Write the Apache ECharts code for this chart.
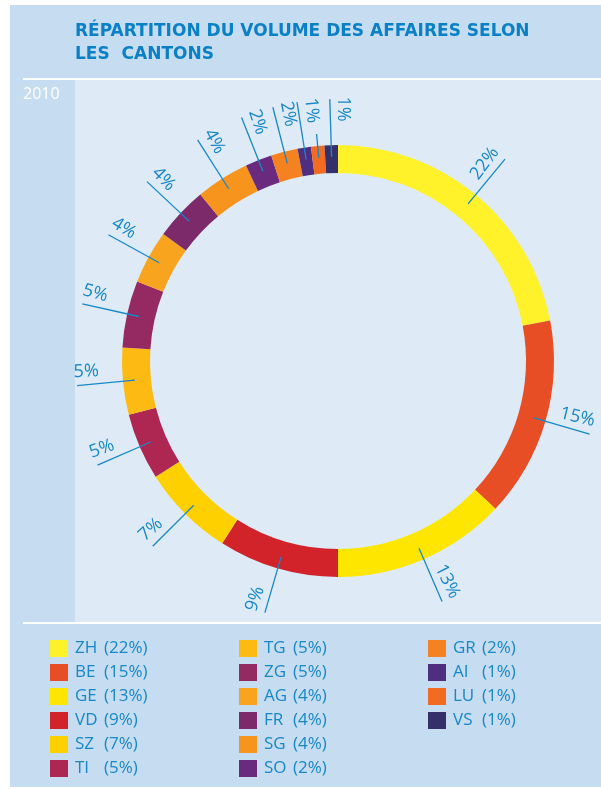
<!DOCTYPE html>
<html lang="fr">
<head>
<meta charset="UTF-8">
<title>Répartition du volume des affaires selon les cantons</title>
<script src="https://cdn.jsdelivr.net/npm/echarts@6/dist/echarts.min.js"></script>
<style>
  html, body { margin: 0; padding: 0; background: #ffffff; }
  #main { width: 601px; height: 789px; }
</style>
</head>
<body>
<div id="main"></div>
<script>
// données (en %)
var cantons = ['ZH', 'BE', 'GE', 'VD', 'SZ', 'TI', 'TG', 'ZG', 'AG', 'FR', 'SG', 'SO', 'GR', 'AI', 'LU', 'VS'];
var parts = [22, 15, 13, 9, 7, 5, 5, 5, 4, 4, 4, 2, 2, 1, 1, 1];
var couleurs = ['#fff22a', '#e84e25', '#ffe600', '#d2232a', '#ffd000', '#ae2752', '#fcba12', '#952a62',
                '#f8a41e', '#7d2a6b', '#f7941d', '#6a2a7e', '#f58220', '#4f2d7f', '#f26b21', '#33306a'];
// LU n'a pas d'étiquette dans l'original (trait court)
var sansTexte = ['LU'];
var annee = '2010';
var titre = 'RÉPARTITION DU VOLUME DES AFFAIRES SELON\nLES  CANTONS';

var bleu = '#1787c8';
var centre = [338, 361];

var myChart = echarts.init(document.getElementById('main'));

var total = parts.reduce(function (a, b) { return a + b; }, 0);
// côté droit / gauche de l'anneau (le texte est posé sur son trait)
var cumul = 0;
var milieux = parts.map(function (v) {
    var mid = (cumul + v / 2) / total * 360;
    cumul += v;
    return mid;
});

function dataTexte(side) {
    return cantons.map(function (c, i) {
        var gauche = milieux[i] >= 180;
        var lab = { show: (side === 'gauche') === gauche && sansTexte.indexOf(c) < 0 };
        // tout en haut à gauche : le texte se lit vers le centre
        if (gauche && milieux[i] > 355) lab.rotate = -90;
        return { name: c + '_t', value: parts[i], label: lab };
    });
}

// 3 colonnes de légende
function legende(noms, left) {
    return {
        orient: 'vertical',
        left: left,
        top: 635,
        itemWidth: 18,
        itemHeight: 17,
        itemGap: 7,
        icon: 'rect',
        selectedMode: false,
        data: noms,
        formatter: function (name) {
            var v = parts[cantons.indexOf(name)];
            return '{n|' + name + '}{p|(' + v + '%)}';
        },
        textStyle: {
            color: bleu,
            fontSize: 17,
            fontFamily: 'Open Sans',
            padding: [0, 0, 0, 2],
            rich: {
                n: { width: 29, color: bleu, fontSize: 17, fontFamily: 'Open Sans' },
                p: { color: bleu, fontSize: 17, fontFamily: 'Open Sans' }
            }
        }
    };
}

function serieTexte(side, start, rayon) {
    return {
        type: 'pie',
        center: centre,
        radius: rayon,
        startAngle: start,
        silent: true,
        avoidLabelOverlap: false,
        itemStyle: { color: 'transparent' },
        label: {
            position: 'inside',
            rotate: 'radial',
            formatter: '{c}%',
            color: bleu,
            fontSize: 18,
            fontFamily: 'Open Sans'
        },
        labelLine: { show: false },
        labelLayout: { hideOverlap: false },
        data: dataTexte(side)
    };
}

var option = {
    animation: false,
    graphic: [
        { type: 'rect', silent: true, z: -10, shape: { x: 10, y: 5, width: 591, height: 782 }, style: { fill: '#c6dcf0' } },
        { type: 'rect', silent: true, z: -9, shape: { x: 75, y: 80, width: 526, height: 542 }, style: { fill: '#deebf7' } },
        { type: 'rect', silent: true, z: -8, shape: { x: 23, y: 78, width: 578, height: 2 }, style: { fill: '#ffffff' } },
        { type: 'rect', silent: true, z: -8, shape: { x: 23, y: 622, width: 578, height: 2 }, style: { fill: '#ffffff' } },
        {
            type: 'text', silent: true, left: 23, top: 86,
            style: { text: annee, fill: '#ffffff', fontSize: 16, fontFamily: 'Open Sans' }
        }
    ],
    title: {
        text: titre,
        left: 70,
        top: 15,
        textStyle: {
            color: '#0a80c6',
            fontSize: 17,
            fontWeight: 'bold',
            fontFamily: 'DejaVu Sans',
            lineHeight: 23
        }
    },
    legend: [
        legende(cantons.slice(0, 6), 45),
        legende(cantons.slice(6, 12), 234),
        legende(cantons.slice(12), 423)
    ],
    series: [
        {
            // anneau
            type: 'pie',
            center: centre,
            radius: [188, 216],
            startAngle: 90,
            silent: true,
            label: { show: false },
            labelLine: { show: false },
            itemStyle: { borderWidth: 0 },
            data: cantons.map(function (c, i) {
                return { name: c, value: parts[i], itemStyle: { color: couleurs[i] } };
            })
        },
        {
            // traits
            type: 'pie',
            z: 5,
            center: centre,
            radius: [0, 204],
            startAngle: 90,
            silent: true,
            avoidLabelOverlap: false,
            itemStyle: { color: 'transparent' },
            label: { show: true, position: 'outside', formatter: ' ', fontSize: 2 },
            labelLine: {
                show: true,
                length: 58,
                length2: 0,
                maxSurfaceAngle: 180,
                lineStyle: { color: bleu, width: 1.3 }
            },
            labelLayout: { hideOverlap: false },
            data: cantons.map(function (c, i) {
                var d = { name: c + '_l', value: parts[i] };
                if (sansTexte.indexOf(c) >= 0) d.labelLine = { length: 24 };
                return d;
            })
        },
        serieTexte('droite', 93, [233, 253]),
        serieTexte('gauche', 87, [239, 259])
    ]
};

myChart.setOption(option);
</script>
</body>
</html>
